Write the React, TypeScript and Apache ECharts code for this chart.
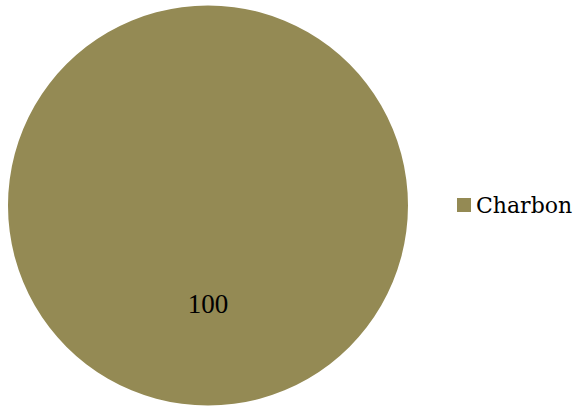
import React, { useEffect, useRef } from "react";
import * as echarts from "echarts";

const categories = ["Charbon"];
const values = [100];
const colors = ["#948A54"];

export default function App() {
  const ref = useRef<HTMLDivElement>(null);
  useEffect(() => {
    if (!ref.current) return;
    const chart = echarts.init(ref.current, null, { renderer: "svg" });
    chart.setOption({
      animation: false,
      color: colors,
      legend: {
        orient: "vertical",
        left: 452,
        top: 189,
        itemWidth: 14,
        itemHeight: 14,
        icon: "rect",
        data: categories,
        textStyle: { fontFamily: "DejaVu Serif", fontSize: 22, color: "#000" },
      },
      series: [
        {
          type: "pie",
          center: [208, 205.5],
          radius: 200,
          startAngle: 90,
          label: {
            show: true,
            position: "inside",
            formatter: "{c}",
            fontFamily: "Liberation Serif",
            fontSize: 27,
            color: "#000",
            offset: [0, -5],
          },
          labelLine: { show: false },
          itemStyle: { borderWidth: 0 },
          emphasis: { disabled: true },
          data: categories.map((c, i) => ({ name: c, value: values[i] })),
        },
      ],
    });
    return () => chart.dispose();
  }, []);
  return (
    <div
      ref={ref}
      style={{ position: "fixed", left: 0, top: 0, width: 581, height: 408, background: "#fff" }}
    />
  );
}
